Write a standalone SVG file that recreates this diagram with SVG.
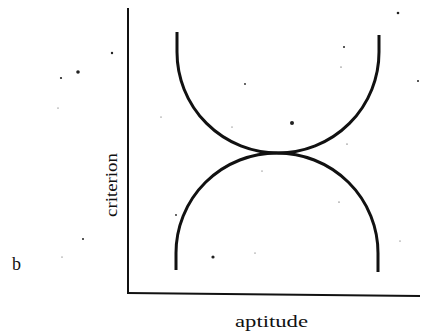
<svg xmlns="http://www.w3.org/2000/svg" width="422" height="333" viewBox="0 0 422 333">
<style>
.ax{stroke:#111;stroke-width:2;fill:none}
.cv{stroke:#111;stroke-width:3;fill:none}
.lbl{font-family:"Liberation Serif","Times New Roman",serif;fill:#111}
.dot{fill:#222}
</style>
<rect width="422" height="333" fill="#fff"/>
<g id="axes">
<line class="ax" x1="128" y1="8" x2="128" y2="293"/>
<line class="ax" x1="127" y1="293" x2="420" y2="296"/>
</g>
<g id="connectors">
<path id="upper-curve" class="cv" d="M177,32 V52 A101,101 0 0 0 379,52 V35"/>
<path id="lower-curve" class="cv" d="M176,270 V253 A101,100 0 0 1 378,253 V272"/>
</g>
<g id="label-criterion">
<text class="lbl" font-size="16" transform="translate(117,185) rotate(-90)" text-anchor="middle" textLength="64" lengthAdjust="spacingAndGlyphs">criterion</text>
</g>
<g id="label-aptitude">
<text class="lbl" x="235" y="327" font-size="16" textLength="73" lengthAdjust="spacingAndGlyphs">aptitude</text>
</g>
<g id="label-b">
<text class="lbl" x="12" y="270" font-size="18">b</text>
</g>
<g id="specks">
<circle class="dot" cx="398" cy="13" r="1.3"/>
<circle class="dot" cx="344" cy="47" r="1"/>
<circle class="dot" cx="341" cy="67" r="0.6"/>
<circle class="dot" cx="245" cy="84" r="0.9"/>
<circle class="dot" cx="418" cy="81" r="1"/>
<circle class="dot" cx="161" cy="117" r="0.5"/>
<circle class="dot" cx="292" cy="123" r="2"/>
<circle class="dot" cx="232" cy="127" r="0.5"/>
<circle class="dot" cx="347" cy="144" r="0.6"/>
<circle class="dot" cx="262" cy="171" r="0.5"/>
<circle class="dot" cx="176" cy="215" r="0.9"/>
<circle class="dot" cx="339" cy="202" r="0.6"/>
<circle class="dot" cx="213" cy="257" r="1.6"/>
<circle class="dot" cx="255" cy="253" r="0.5"/>
<circle class="dot" cx="400" cy="241" r="0.5"/>
<circle class="dot" cx="112" cy="53" r="1.2"/>
<circle class="dot" cx="78" cy="72" r="1.8"/>
<circle class="dot" cx="61" cy="78" r="1.1"/>
<circle class="dot" cx="58" cy="108" r="0.5"/>
<circle class="dot" cx="83" cy="239" r="1"/>
<circle class="dot" cx="62" cy="257" r="0.5"/>
</g>
</svg>
